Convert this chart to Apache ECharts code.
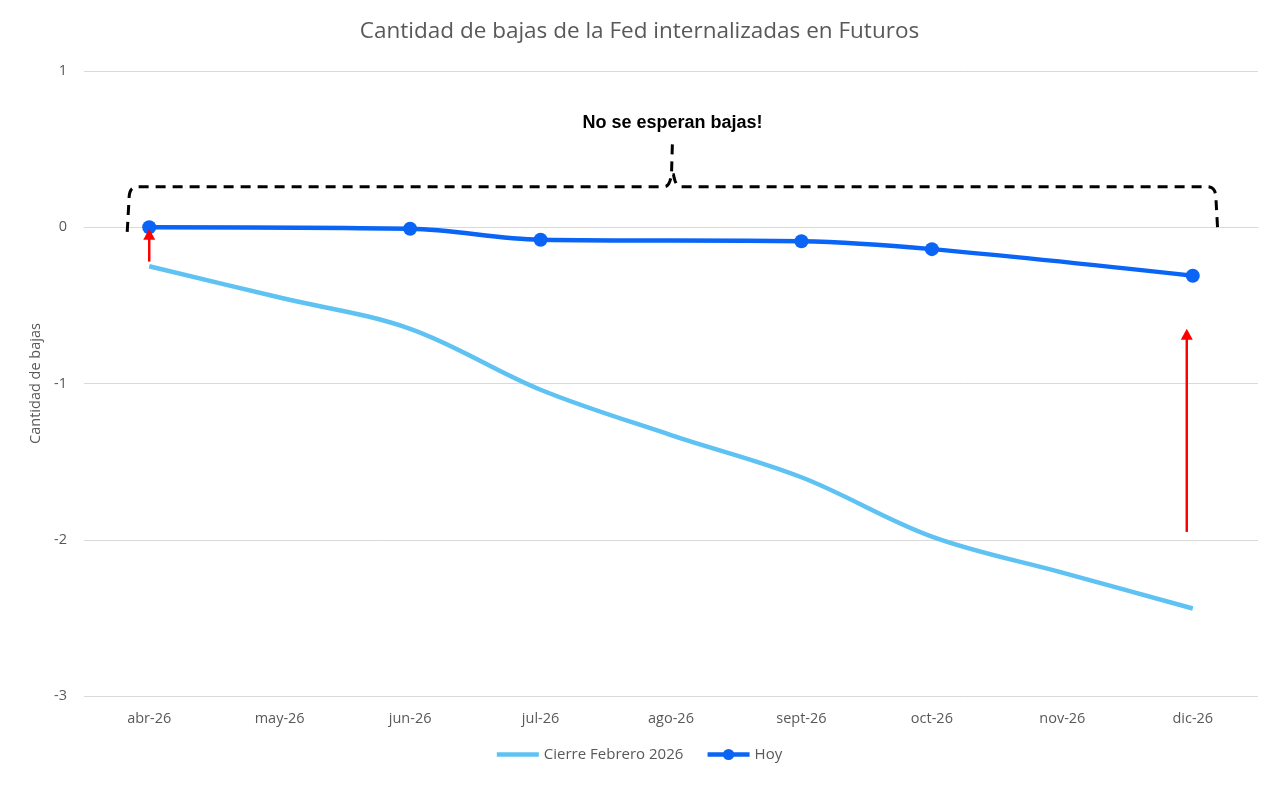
<!DOCTYPE html>
<html>
<head>
<meta charset="utf-8">
<script src="https://cdn.jsdelivr.net/npm/echarts@6/dist/echarts.min.js"></script>
<style>
html,body{margin:0;padding:0;background:#fff;}
#c{width:1279px;height:785px;}
</style>
</head>
<body>
<div id="c"></div>
<script>
const categories = ['abr-26','may-26','jun-26','jul-26','ago-26','sept-26','oct-26','nov-26','dic-26'];
const cierreFebrero = [-0.25, -0.45, -0.65, -1.04, -1.33, -1.60, -1.98, -2.21, -2.44];
const hoy = [0, null, -0.01, -0.08, null, -0.09, -0.14, null, -0.31];
const yTicks = { min: -3, max: 1, interval: 1 };
const titleText = 'Cantidad de bajas de la Fed internalizadas en Futuros';
const yAxisName = 'Cantidad de bajas';
const noteText = 'No se esperan bajas!';

const chart = echarts.init(document.getElementById('c'));
const font = 'Open Sans';
const option = {
  animation: false,
  backgroundColor: '#fff',
  title: {
    text: titleText, left: 'center', top: 15,
    textStyle: { fontFamily: font, fontSize: 22.5, fontWeight: 'normal', color: '#595959' }
  },
  grid: { left: 84, right: 21, top: 71, bottom: 89 },
  legend: {
    bottom: 18, left: 'center', itemWidth: 42, itemHeight: 14, itemGap: 22,
    textStyle: { fontFamily: font, fontSize: 15, color: '#595959' },
    data: [
      { name: 'Cierre Febrero 2026', icon: 'path://M0,0 L40,0 L40,4.5 L0,4.5 Z' },
      { name: 'Hoy', lineStyle: { width: 4.5 } }
    ]
  },
  xAxis: {
    type: 'category', data: categories, boundaryGap: true,
    axisLine: { show: true, lineStyle: { color: '#d9d9d9' } },
    axisTick: { show: false },
    axisLabel: { fontFamily: font, fontSize: 14.5, color: '#595959', margin: 15 }
  },
  yAxis: {
    type: 'value', min: yTicks.min, max: yTicks.max, interval: yTicks.interval,
    name: yAxisName, nameLocation: 'middle', nameGap: 40,
    nameTextStyle: { fontFamily: font, fontSize: 14.5, color: '#595959' },
    axisLine: { show: false }, axisTick: { show: false },
    axisLabel: { fontFamily: font, fontSize: 14.5, color: '#595959', margin: 17 },
    splitLine: { lineStyle: { color: '#d9d9d9', width: 1 } }
  },
  series: [
    {
      name: 'Cierre Febrero 2026', type: 'line', data: cierreFebrero,
      smooth: 0.35, symbol: 'none', z: 2,
      lineStyle: { color: '#5EC2F2', width: 4.5 }, itemStyle: { color: '#5EC2F2' }
    },
    {
      name: 'Hoy', type: 'line', data: hoy, connectNulls: true,
      smooth: 0.35, symbol: 'circle', symbolSize: 14, z: 3,
      lineStyle: { color: '#0A64F5', width: 4.5 }, itemStyle: { color: '#0A64F5' }
    }
  ]
};
chart.setOption(option);

function P(i, v) { return chart.convertToPixel({ gridIndex: 0 }, [i, v]); }
const first = P(0, 0), last = P(categories.length - 1, 0);
const xl = first[0] - 22, xr = last[0] + 25, xm = (xl + xr) / 2;
const yTop = P(0, 0.26)[1], yBot = P(0, -0.03)[1], yPeak = P(0, 0.56)[1], yText = P(0, 0.665)[1];

function quad(p0, c, p1, n) {
  const pts = [];
  for (let k = 0; k <= n; k++) {
    const t = k / n, u = 1 - t;
    pts.push([u*u*p0[0] + 2*u*t*c[0] + t*t*p1[0], u*u*p0[1] + 2*u*t*c[1] + t*t*p1[1]]);
  }
  return pts;
}
const r = 9;
const leftHalf = [[xl, yBot]]
  .concat(quad([xl+2, yTop+r], [xl+3, yTop], [xl+r+2, yTop], 8))
  .concat(quad([xm-8, yTop], [xm-3, yTop], [xm-1, yTop-12], 6))
  .concat([[xm, yPeak]]);
const rightHalf = [[xm, yTop-12]]
  .concat(quad([xm+1, yTop-12], [xm+3, yTop], [xm+8, yTop], 6))
  .concat(quad([xr-r-2, yTop], [xr-3, yTop], [xr-2, yTop+r], 8))
  .concat([[xr, yBot]]);

const a1Bot = P(0, -0.22), a1Top = P(0, -0.01);
const a2Bot = P(categories.length - 1, -1.95), a2Top = P(categories.length - 1, -0.65);
function arrow(x, y1, y2) {
  return [
    { type: 'line', shape: { x1: x, y1: y1, x2: x, y2: y2 + 8 }, style: { stroke: '#FF0000', lineWidth: 2.5 }, z: 10 },
    { type: 'polygon', shape: { points: [[x, y2], [x - 6, y2 + 11], [x + 6, y2 + 11]] }, style: { fill: '#FF0000' }, z: 10 }
  ];
}
const dashStyle = { stroke: '#000', lineWidth: 3, lineDash: [10, 7], fill: null };
chart.setOption({
  graphic: [
    { type: 'polyline', shape: { points: leftHalf }, style: dashStyle, z: 5 },
    { type: 'polyline', shape: { points: rightHalf }, style: dashStyle, z: 5 },
    { type: 'text', x: xm, y: yText, style: { text: noteText, font: 'bold 18px "Liberation Sans"', fill: '#000', align: 'center', verticalAlign: 'middle' }, z: 5 }
  ].concat(arrow(a1Bot[0], a1Bot[1], a1Top[1])).concat(arrow(a2Bot[0] - 6, a2Bot[1], a2Top[1]))
});
</script>
</body>
</html>
